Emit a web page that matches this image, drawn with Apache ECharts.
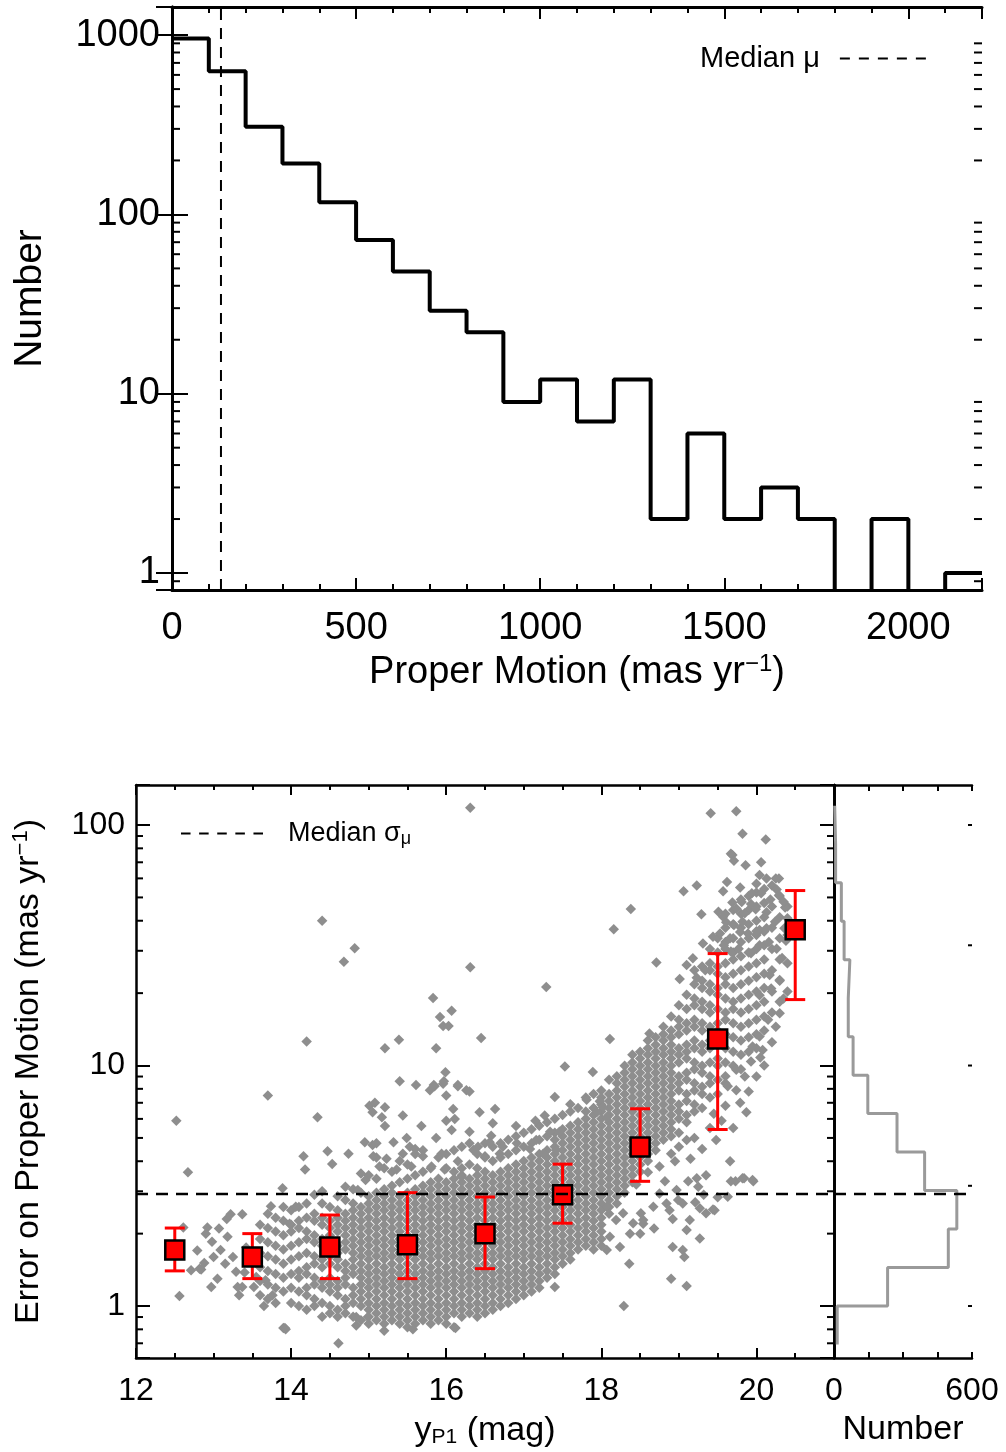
<!DOCTYPE html>
<html><head><meta charset="utf-8">
<script src="https://cdn.jsdelivr.net/npm/echarts@6/dist/echarts.min.js"></script>
<style>html,body{margin:0;padding:0;background:#fff}#c{width:1006px;height:1452px}</style>
</head><body><div id="c"></div>
<script>
// ---------------- DATA ----------------
const pmBinEdges = [0,100,200,300,400,500,600,700,800,900,1000,1100,1200,1300,1400,1500,1600,1700,1800,1900,2000,2100,2200];
const pmCounts = [957,629,308,192,117,72,48,29,22,9,12,7,12,2,6,2,3,2,0,2,0,1];
const medianPM = 133;

const magBinCenters = [12.5,13.5,14.5,15.5,16.5,17.5,18.5,19.5,20.5];
const sigmaBinMedian = [1.71,1.60,1.76,1.80,2.00,2.90,4.58,12.9,36.7];
const sigmaBinLow = [1.40,1.30,1.30,1.30,1.43,2.21,3.30,5.42,18.8];
const sigmaBinHigh = [2.11,2.00,2.39,2.96,2.84,3.89,6.61,29.2,53.4];
const medianSigma = 2.92;

const sigmaHistEdges = [0.692,1.0,1.445,2.089,3.02,4.365,6.31,9.12,13.18,19.05,27.54,39.81,57.54,83.18,120.2];
const sigmaHistCounts = [14,233,497,534,394,274,147,83,62,69,44,32,7,3];

const pmTickLabels = [0,500,1000,1500,2000];
const magTickLabels = [12,14,16,18,20];
const numTickLabels = [0,600];

// scatter: columns of points (magnitude, list of sigma values) read from the cloud
const scatterColumns = [
[13.6,[2.18,1.9,1.66,1.45,1.27,1.11]],
[13.7,[2.42,2.11,1.84,1.61,1.4,1.23,1.07]],
[13.8,[2.33,2.04,1.78,1.56,1.36,1.19,1.03]],
[13.9,[2.58,2.26,1.97,1.72,1.5,1.31,1.15,0.81]],
[14.0,[2.5,2.18,2.04,1.78,1.56,1.36,1.19,1.03]],
[14.1,[2.58,2.26,2.11,1.84,1.61,1.4,1.31,1.15,1.0]],
[14.2,[2.67,2.33,2.04,1.9,1.66,1.45,1.36,1.19,1.11,0.966]],
[14.3,[2.42,2.26,1.97,1.84,1.61,1.5,1.31,1.23,1.07,1.0]],
[14.4,[2.67,2.33,2.18,1.9,1.78,1.56,1.45,1.27,1.19,1.03,0.903]],
[14.5,[2.58,2.26,2.11,1.97,1.72,1.61,1.5,1.31,1.23,1.15,1.0,0.934]],
[14.6,[2.86,2.5,2.33,2.18,2.04,1.78,1.66,1.56,1.45,1.27,1.19,1.11,0.966,0.903]],
[14.7,[2.76,2.42,2.26,2.11,1.97,1.84,1.72,1.5,1.4,1.31,1.23,1.07,1.0,0.934]],
[14.8,[3.06,2.67,2.5,2.33,2.18,2.04,1.9,1.78,1.66,1.56,1.45,1.36,1.19,1.11,1.03,0.903]],
[14.9,[2.96,2.58,2.42,2.26,2.11,1.97,1.84,1.72,1.61,1.5,1.4,1.31,1.23,1.15,1.07,1.0,0.873]],
[15.0,[3.5,2.86,2.67,2.5,2.33,2.18,2.04,1.9,1.78,1.66,1.56,1.45,1.36,1.27,1.19,1.11,1.03,0.966,0.903,0.844]],
[15.1,[4.15,3.38,2.96,2.76,2.58,2.42,2.26,2.11,1.97,1.84,1.72,1.61,1.5,1.4,1.31,1.23,1.15,1.07,1.0,0.934,0.873]],
[15.2,[3.74,3.06,2.86,2.67,2.5,2.33,2.18,2.04,1.9,1.78,1.66,1.56,1.45,1.36,1.27,1.19,1.11,1.03,0.966,0.903,0.844,0.789]],
[15.3,[3.62,3.16,2.96,2.76,2.58,2.42,2.26,2.11,1.97,1.84,1.72,1.61,1.5,1.4,1.31,1.23,1.15,1.07,1.0,0.934,0.873]],
[15.4,[4.01,3.27,2.86,2.67,2.5,2.33,2.18,2.04,1.9,1.78,1.66,1.56,1.45,1.36,1.27,1.19,1.11,1.03,0.966,0.903,0.844]],
[15.5,[3.88,3.38,2.96,2.76,2.58,2.42,2.26,2.11,1.97,1.84,1.72,1.61,1.5,1.4,1.31,1.23,1.15,1.07,1.0,0.934,0.873,0.816]],
[15.6,[4.29,3.5,3.06,2.86,2.67,2.5,2.33,2.18,2.04,1.9,1.78,1.66,1.56,1.45,1.36,1.27,1.19,1.11,1.03,0.966,0.903,0.844]],
[15.7,[4.44,3.62,3.16,2.96,2.76,2.58,2.42,2.26,2.11,1.97,1.84,1.72,1.61,1.5,1.4,1.31,1.23,1.15,1.07,1.0,0.934,0.873]],
[15.8,[3.74,3.27,3.06,2.86,2.67,2.5,2.33,2.18,2.04,1.9,1.78,1.66,1.56,1.45,1.36,1.27,1.19,1.11,1.03,0.966,0.903,0.844]],
[15.9,[4.15,3.38,3.16,2.96,2.76,2.58,2.42,2.26,2.11,1.97,1.84,1.72,1.61,1.5,1.4,1.31,1.23,1.15,1.07,1.0,0.934,0.873]],
[16.0,[4.29,3.74,3.27,3.06,2.86,2.67,2.5,2.33,2.18,2.04,1.9,1.78,1.66,1.56,1.45,1.36,1.27,1.19,1.11,1.03,0.966,0.903,0.844]],
[16.1,[4.44,3.62,3.38,3.16,2.96,2.76,2.58,2.42,2.26,2.11,1.97,1.84,1.72,1.61,1.5,1.4,1.31,1.23,1.15,1.07,1.0,0.934,0.816]],
[16.2,[4.59,3.74,3.5,3.27,3.06,2.86,2.67,2.5,2.33,2.18,2.04,1.9,1.78,1.66,1.56,1.45,1.36,1.27,1.19,1.11,1.03,0.966,0.903]],
[16.3,[4.75,3.88,3.38,3.16,2.96,2.76,2.58,2.42,2.26,2.11,1.97,1.84,1.72,1.61,1.5,1.4,1.31,1.23,1.15,1.07,1.0,0.934]],
[16.4,[4.29,3.74,3.5,3.27,3.06,2.86,2.67,2.5,2.33,2.18,2.04,1.9,1.78,1.66,1.56,1.45,1.36,1.27,1.19,1.11,1.03,0.966,0.903]],
[16.5,[4.75,4.15,3.62,3.38,3.16,2.96,2.76,2.58,2.42,2.26,2.11,1.97,1.84,1.72,1.61,1.5,1.4,1.31,1.23,1.15,1.07,1.0,0.934]],
[16.6,[4.59,4.01,3.5,3.27,3.06,2.86,2.67,2.5,2.33,2.18,2.04,1.9,1.78,1.66,1.56,1.45,1.36,1.27,1.19,1.11,1.03,0.966]],
[16.7,[4.75,4.15,3.62,3.38,3.16,2.96,2.76,2.58,2.42,2.26,2.11,1.97,1.84,1.72,1.61,1.5,1.4,1.31,1.23,1.15,1.07,1.0]],
[16.8,[4.91,4.29,3.74,3.5,3.27,3.06,2.86,2.67,2.5,2.33,2.18,2.04,1.9,1.78,1.66,1.56,1.45,1.36,1.27,1.19,1.11,1.03]],
[16.9,[5.08,4.44,3.88,3.62,3.38,3.16,2.96,2.76,2.58,2.42,2.26,2.11,1.97,1.84,1.72,1.61,1.5,1.4,1.31,1.23,1.15,1.07]],
[17.0,[5.25,4.59,4.01,3.74,3.5,3.27,3.06,2.86,2.67,2.5,2.33,2.18,2.04,1.9,1.78,1.66,1.56,1.45,1.36,1.27,1.19,1.11]],
[17.1,[5.43,4.75,4.15,3.88,3.62,3.38,3.16,2.96,2.76,2.58,2.42,2.26,2.11,1.97,1.84,1.72,1.61,1.5,1.4,1.31,1.23,1.15]],
[17.2,[5.62,4.91,4.29,4.01,3.74,3.5,3.27,3.06,2.86,2.67,2.5,2.33,2.18,2.04,1.9,1.78,1.66,1.56,1.45,1.36,1.27,1.19]],
[17.3,[5.81,5.08,4.44,4.15,3.88,3.62,3.38,3.16,2.96,2.76,2.58,2.42,2.26,2.11,1.97,1.84,1.72,1.61,1.5,1.4,1.31]],
[17.4,[6.01,5.25,4.91,4.59,4.29,4.01,3.74,3.5,3.27,3.06,2.86,2.67,2.5,2.33,2.18,2.04,1.9,1.78,1.66,1.56,1.45,1.36]],
[17.5,[6.22,5.43,5.08,4.75,4.44,4.15,3.88,3.62,3.38,3.16,2.96,2.76,2.58,2.42,2.26,2.11,1.97,1.84,1.72,1.61,1.5]],
[17.6,[6.44,5.62,5.25,4.91,4.59,4.29,4.01,3.74,3.5,3.27,3.06,2.86,2.67,2.5,2.33,2.18,2.04,1.9,1.78,1.66,1.56]],
[17.7,[6.66,5.81,5.43,5.08,4.75,4.44,4.15,3.88,3.62,3.38,3.16,2.96,2.76,2.58,2.42,2.26,2.11,1.97,1.84,1.72]],
[17.8,[7.37,6.44,6.01,5.62,5.25,4.91,4.59,4.29,4.01,3.74,3.5,3.27,3.06,2.86,2.67,2.5,2.33,2.18,2.04,1.9,1.78]],
[17.9,[7.62,6.66,6.22,5.81,5.43,5.08,4.75,4.44,4.15,3.88,3.62,3.38,3.16,2.96,2.76,2.58,2.42,2.26,2.11,1.97,1.84,1.72]],
[18.0,[7.88,7.37,6.89,6.44,6.01,5.62,5.25,4.91,4.59,4.29,4.01,3.74,3.5,3.27,3.06,2.86,2.67,2.5,2.33,2.18,2.04,1.9,1.78]],
[18.1,[8.73,7.62,7.12,6.66,6.22,5.81,5.43,5.08,4.75,4.44,4.15,3.88,3.62,3.38,3.16,2.96,2.76,2.58,2.42]],
[18.2,[9.03,8.44,7.88,7.37,6.89,6.44,6.01,5.62,5.25,4.91,4.59,4.29,4.01,3.74,3.5,3.27,3.06,2.86,2.67]],
[18.3,[9.99,9.34,8.73,8.16,7.62,7.12,6.66,6.22,5.81,5.43,5.08,4.75,4.44,4.15,3.88,3.62,3.38,3.16,2.96]],
[18.4,[11.1,10.3,9.66,9.03,8.44,7.88,7.37,6.89,6.44,6.01,5.62,5.25,4.91,4.59,4.29,4.01,3.74,3.5,3.27]],
[18.5,[11.4,10.7,9.99,9.34,8.73,8.16,7.62,7.12,6.66,6.22,5.81,5.43,5.08,4.75,4.44,4.15,3.88,3.62]],
[18.6,[12.7,11.8,11.1,10.3,9.66,9.03,8.44,7.88,7.37,6.89,6.44,6.01,5.62,5.25,4.91,4.59,4.29,4.01]],
[18.7,[13.1,12.2,11.4,10.7,9.99,9.34,8.73,8.16,7.62,7.12,6.66,6.22,5.81,5.43,5.08,4.75,4.44]],
[18.8,[14.5,13.5,12.7,11.8,11.1,10.3,9.66,9.03,8.44,7.88,7.37,6.89,6.44,6.01,5.62,5.25,4.91]],
[18.9,[16.0,14.0,13.1,12.2,11.4,10.7,9.99,9.34,8.73,8.16,7.62,7.12,6.66,6.22,5.81,5.43,5.08]],
[19.0,[17.8,15.5,14.5,13.5,11.8,11.1,10.3,9.03,8.44,7.88,6.89,6.44,6.01,5.25]],
[19.1,[19.7,17.2,15.0,14.0,12.2,11.4,10.7,9.34,8.73,7.62,7.12,6.22,5.81]],
[19.2,[24.9,21.8,19.0,17.8,15.5,14.5,12.7,11.8,10.3,9.66,8.44,7.88,6.89,6.44]],
[19.3,[25.8,22.5,21.0,18.4,17.2,15.0,14.0,12.2,11.4,9.99,9.34,8.16,7.62,6.66]],
[19.4,[30.5,26.6,24.9,21.8,20.3,17.8,16.6,14.5,12.7,11.8,10.3,9.03,8.44,7.37]],
[19.5,[33.8,29.5,25.8,24.1,21.0,19.7,17.2,15.0,14.0,12.2,10.7,9.99,8.73,7.62]],
[19.6,[42.8,37.4,32.6,30.5,26.6,23.3,21.8,19.0,16.6,15.5,13.5,11.8,10.3,9.03,8.44]],
[19.7,[44.3,38.7,33.8,29.5,27.6,24.1,21.0,18.4,17.2,15.0,13.1,11.4,9.99]],
[19.8,[49.0,42.8,37.4,32.6,28.5,24.9,21.8,19.0,16.6,14.5,12.7,11.1,9.66]],
[19.9,[50.7,44.3,38.7,33.8,29.5,25.8,22.5,19.7,17.2,15.0,13.1,11.4]],
[20.0,[52.4,45.8,40.0,34.9,30.5,26.6,23.3,20.3,17.8,15.5,13.5,11.8]],
[20.1,[54.2,47.4,41.4,36.1,31.6,27.6,24.1,21.0,18.4,16.0,14.0]],
[20.2,[56.1,45.8,37.4,30.5,24.9,20.3,16.6]],
[20.3,[50.7,41.4,33.8,27.6,22.5,18.4]],
[20.4,[45.8,34.9,26.6,20.3]]
];

// scatter: isolated / sparse points
const scatterSparse = [
[12.52,5.9],[12.67,3.6],[12.56,1.10],[12.61,2.12],[12.79,1.70],[12.84,1.42],[12.71,1.41],[12.82,1.43],[12.88,1.51],[12.92,2.12],[12.90,2.0],[13.07,2.1],[13.18,1.94],[12.97,1.20],[13.05,1.30],[13.09,1.71],[13.22,2.41],[13.37,2.41],[13.17,2.3],[13.29,1.39],[13.31,1.20],[13.33,1.11],[13.37,1.20],[13.52,1.20],[13.55,1.32],[13.65,1.0],[13.67,1.28],[13.76,1.11],[13.92,0.81],[13.70,7.5],[13.74,2.6],[13.89,3.09],[13.45,1.55],[13.42,1.75],[13.25,1.6],[13.15,1.5],[13.40,1.38],[12.98,1.85],[13.0,1.6],[13.98,2.2],[14.06,2.59],
[14.16,4.2],[14.18,3.7],[14.34,6.1],[14.47,4.4],[14.53,3.9],[14.74,4.3],[14.95,4.8],[15.05,4.67],[15.01,6.8],[15.05,6.4],[14.70,3.13],[14.90,3.56],[14.96,3.34],[14.86,3.04],[14.4,3.0],[14.3,2.9],
[15.08,7.0],[15.21,6.7],[15.17,6.1],[15.21,5.6],[15.44,6.2],[15.68,5.6],[15.87,5.0],[16.0,5.9],[16.09,6.6],[16.11,6.0],[16.07,5.4],[16.30,5.3],[16.43,6.4],[16.60,5.75],[16.63,6.6],[16.58,5.1],[16.56,4.8],[17.27,6.2],[17.34,5.3],[17.46,5.3],
[15.10,4.75],[15.32,4.8],[15.49,5.0],[15.53,4.6],[15.60,4.5],[15.06,4.2],[15.23,4.1],[15.14,3.8],[15.36,3.7],[15.55,3.8],[15.44,4.3],
[15.70,4.2],[15.81,3.8],[15.94,4.3],[15.98,3.7],[16.15,4.0],[16.20,3.45],[16.35,4.45],[16.41,4.6],[16.50,4.2],[16.69,4.3],[16.73,4.6],[16.91,4.75],[17.08,4.5],[17.16,4.9],[17.25,4.3],[17.42,4.45],
[15.79,7.9],[15.85,8.2],[15.96,8.4],[16.0,7.5],[16.15,8.2],[16.26,7.9],[16.30,7.8],
[17.81,7.2],[17.98,7.1],[18.02,6.7],[17.94,6.4],[18.07,6.1],[17.6,6.9],[17.4,7.4],[17.15,5.9],[16.9,5.6],
[16.31,118],[14.40,40],[14.82,30.7],[14.68,27.0],[16.31,25.6],[17.29,21.2],[15.83,19.1],[15.92,15.9],[16.07,16.9],[15.96,14.6],[16.03,14.6],[14.20,12.6],[15.39,12.8],[15.21,11.8],[15.87,11.8],[16.45,13.0],[15.99,9.38],[15.40,8.6],[15.61,8.3],[15.84,8.3],[15.97,8.6],[16.15,8.3],[17.53,9.9],[17.89,9.4],[18.11,12.9],[18.62,13.6],[18.16,36.9],[18.38,44.8],[18.71,26.8],
[19.41,112],[19.74,114],[19.82,92],[20.12,87],[19.67,76],[19.69,75],[19.71,71],[19.86,68],[20.06,70],[20.04,62],[20.13,60],[20.29,60],[19.62,58],[20.00,57],[19.23,56],[19.06,53],[19.57,53],[19.79,55],[19.94,52],[20.06,52],[20.26,54],[20.18,49],[20.29,51],[19.69,47.6],[19.81,47.8],[19.93,47],[19.51,43.6],[19.57,41.6],[19.74,45],[19.85,43],[19.99,44.7],[20.13,43.4],[20.37,45.4],[19.29,42.6],[19.61,39.4],[19.71,38.4],[19.82,39.6],[20.04,36.6],[20.13,37.2],[20.24,39.6],[20.36,37.2],[19.53,35.4],[19.66,33.8],[19.44,34.3],[19.79,35.9],[19.89,35.4],[20.00,36.2],[19.31,32.2],[19.58,31.6],[19.67,29.8],[19.77,30.6],[19.93,29.3],[20.04,31.6],[20.16,32.6],[20.26,30.6],[19.18,27.9],[19.10,26.2],[19.34,24.9],[19.23,23.2],[19.01,22.9],[20.17,23.8],[20.30,22.7],[20.19,20.9],[20.04,19.6],[20.25,60],[20.33,28],[20.38,33],[20.35,48],[20.40,41],
[19.48,4.9],[19.66,4.0],[19.73,3.3],[19.84,3.4],[19.96,3.3],[19.63,2.85],[19.46,2.5],[19.27,1.91],[19.10,2.07],[19.14,2.28],[18.92,1.76],[19.05,1.71],[19.07,1.6],[18.90,1.3],[19.10,1.21],[18.36,1.5],[18.29,1.0],[18.54,2.2],[18.37,2.0],[18.88,2.5],[18.99,2.76],[19.27,2.55],[19.35,2.43],[19.12,3.3],[19.23,3.4],[19.35,3.5],[19.25,3.13],[19.74,9.6],[19.93,10.4],[20.04,13.2],[20.08,11.6],[19.79,7.0],[19.87,6.4],[19.74,7.9],[19.63,8.2],
[18.07,2.59],[18.19,2.28],[18.28,2.43],[18.41,2.21],[18.54,2.28],[18.67,2.59],[18.75,2.94],[18.84,2.67],[18.97,3.04],[19.05,2.67],[18.11,1.94],[18.24,1.76],[18.50,2.0],[18.07,1.71],[17.40,1.2],[18.51,2.43],[19.50,2.83],[19.32,2.9],[19.21,2.7],[18.92,2.3],[18.68,2.1],[19.44,2.52],[19.67,3.3],[19.82,3.4],[19.95,3.34],
[18.60,3.6],[18.75,3.8],[18.90,4.3],[19.00,4.6],[18.45,3.2],[18.82,3.3],[19.15,4.1],[19.30,4.5],[19.40,5.5],[19.55,5.9],[19.60,6.8],[19.45,6.3],[19.20,5.0],[19.10,4.9],[18.95,4.0],[19.70,5.5],[19.90,7.8],[20.00,9.0],[20.10,10.0],[20.20,12.5],[20.25,14.5],[20.30,16.5],[20.35,19],[20.15,15.5],[19.85,9.0],[20.05,10.8],[19.95,12.0],
[14.61,0.70],[13.93,0.80],[15.57,0.80],[16.12,0.81],[14.84,0.90],[14.84,0.83],[14.99,0.90]
];

// ---------------- BUILD ----------------
const FONT = "'Liberation Sans', Arial, Helvetica, sans-serif";
const PM_RANGE = [0, 2200], NUM_TOP_RANGE = [0.804, 1435];
const MAG_RANGE = [12, 21], SIG_RANGE = [0.608, 146.7], NUM_RIGHT_RANGE = [0, 600];

const pmStep = [];
pmCounts.forEach((c, i) => { const v = c > 0 ? c : 0.3; pmStep.push([pmBinEdges[i], v], [pmBinEdges[i + 1], v]); });
const sigStep = [];
sigmaHistCounts.forEach((c, i) => { sigStep.push([c, sigmaHistEdges[i]], [c, sigmaHistEdges[i + 1]]); });
const scatterPts = [];
scatterColumns.forEach(([m, arr]) => arr.forEach(s => scatterPts.push([m, s])));
scatterSparse.forEach(p => scatterPts.push(p));
const errData = magBinCenters.map((m, i) => [m, sigmaBinLow[i], sigmaBinHigh[i]]);
const medData = magBinCenters.map((m, i) => [m, sigmaBinMedian[i]]);

function logMinor(lo, hi) { const o = []; for (let k = -2; k <= 4; k++) for (let m = 2; m <= 9; m++) { const v = m * Math.pow(10, k); if (v > lo && v < hi) o.push(v); } return o; }
const isPow10 = v => { const l = Math.log10(v); return Math.abs(l - Math.round(l)) < 1e-6; };

const black = '#000';
function xAx(grid, pos, range, interval, tickLen, extra) {
  return Object.assign({
    type: 'value', gridIndex: grid, position: pos, min: range[0], max: range[1], interval: interval,
    axisLine: { show: false }, splitLine: { show: false },
    axisTick: { show: true, inside: true, length: tickLen, lineStyle: { color: black, width: 2 } },
    axisLabel: { show: false }
  }, extra || {});
}
function yAx(grid, pos, range, tickLen, extra) {
  return Object.assign({
    type: 'log', logBase: 10, gridIndex: grid, position: pos, min: range[0], max: range[1],
    axisLine: { show: true, lineStyle: { color: black, width: 2.5 } }, splitLine: { show: false },
    axisTick: { show: tickLen > 0, inside: true, length: tickLen, lineStyle: { color: black, width: 2 } },
    axisLabel: { show: false }
  }, extra || {});
}
function tickSeries(xIdx, yIdx, values, xAnchor, len, width, sides) {
  return {
    type: 'custom', xAxisIndex: xIdx, yAxisIndex: yIdx, silent: true, z: 10, clip: false,
    data: values.map(v => [xAnchor, v]),
    renderItem: function (params, api) {
      const cs = params.coordSys;
      const y = api.coord([api.value(0), api.value(1)])[1];
      const st = { stroke: black, lineWidth: width };
      const ch = [];
      if (sides.indexOf('L') >= 0) ch.push({ type: 'line', shape: { x1: cs.x, y1: y, x2: cs.x + len, y2: y }, style: st });
      if (sides.indexOf('R') >= 0) ch.push({ type: 'line', shape: { x1: cs.x + cs.width - len, y1: y, x2: cs.x + cs.width, y2: y }, style: st });
      return { type: 'group', children: ch };
    }
  };
}
const DASH_ICON = 'path://M0,0H10V2H0ZM19,0H29V2H19ZM38,0H48V2H38ZM57,0H67V2H57ZM76,0H86V2H76Z';

const option = {
  animation: false,
  backgroundColor: '#fff',
  textStyle: { fontFamily: FONT, color: black },
  grid: [
    { left: 172, top: 7, width: 810, height: 583, outerBoundsMode: 'none', containLabel: false },
    { left: 136, top: 785, width: 698, height: 573, outerBoundsMode: 'none', containLabel: false },
    { left: 834, top: 785, width: 138, height: 573, outerBoundsMode: 'none', containLabel: false }
  ],
  legend: [
    { data: ['Median μ'], left: 700, top: 44, align: 'right', padding: 0, selectedMode: false,
      icon: DASH_ICON, itemWidth: 86, itemHeight: 2, itemStyle: { color: black, borderWidth: 0 },
      textStyle: { fontFamily: FONT, fontSize: 29, color: black, padding: [0, 15, 0, 0] } },
    { data: ['Median σμ'], left: 181, top: 820, align: 'left', padding: 0, selectedMode: false,
      icon: DASH_ICON, itemWidth: 82, itemHeight: 2, itemStyle: { color: black, borderWidth: 0 },
      formatter: () => '{a|Median σ}{b|μ}',
      textStyle: { fontFamily: FONT, fontSize: 27, color: black, padding: [0, 0, 0, 20],
        rich: { a: { fontFamily: FONT, fontSize: 27, color: black }, b: { fontFamily: FONT, fontSize: 18, color: black, padding: [12, 0, 0, 0] } } } }
  ],
  xAxis: [
    xAx(0, 'bottom', PM_RANGE, 500, 12, {
      axisLine: { show: true, lineStyle: { color: black, width: 3 } },
      axisLabel: { show: true, fontSize: 38, fontFamily: FONT, color: black, margin: 20,
        formatter: v => pmTickLabels.indexOf(v) >= 0 ? String(v) : '' },
      name: '{a|Proper Motion (mas yr}{s|−1}{a|)}', nameLocation: 'middle', nameGap: 62,
      nameTextStyle: { rich: { a: { fontFamily: FONT, fontSize: 38, color: black }, s: { fontFamily: FONT, fontSize: 24, color: black, padding: [0, 0, 18, 0] } } }
    }),
    xAx(0, 'bottom', PM_RANGE, 100, 6),
    xAx(0, 'top', PM_RANGE, 500, 12, { axisLine: { show: true, lineStyle: { color: black, width: 3 } } }),
    xAx(0, 'top', PM_RANGE, 100, 6),
    xAx(1, 'bottom', MAG_RANGE, 2, 10, {
      axisLine: { show: true, lineStyle: { color: black, width: 2.5 } },
      axisLabel: { show: true, fontSize: 32, fontFamily: FONT, color: black, margin: 17,
        formatter: v => magTickLabels.indexOf(v) >= 0 ? String(v) : '' },
      name: '{a|y}{b|P1}{a| (mag)}', nameLocation: 'middle', nameGap: 55,
      nameTextStyle: { rich: { a: { fontFamily: FONT, fontSize: 34, color: black }, b: { fontFamily: FONT, fontSize: 21, color: black, padding: [14, 0, 0, 0] } } }
    }),
    xAx(1, 'bottom', MAG_RANGE, 0.5, 5),
    xAx(1, 'top', MAG_RANGE, 2, 10, { axisLine: { show: true, lineStyle: { color: black, width: 2.5 } } }),
    xAx(1, 'top', MAG_RANGE, 0.5, 5),
    xAx(2, 'bottom', NUM_RIGHT_RANGE, 150, 6, {
      axisLine: { show: true, lineStyle: { color: black, width: 2.5 } },
      axisLabel: { show: true, fontSize: 32, fontFamily: FONT, color: black, margin: 17,
        formatter: v => numTickLabels.indexOf(v) >= 0 ? String(v) : '' },
      name: 'Number', nameLocation: 'middle', nameGap: 55,
      nameTextStyle: { fontFamily: FONT, fontSize: 34, color: black }
    }),
    xAx(2, 'top', NUM_RIGHT_RANGE, 150, 6, { axisLine: { show: true, lineStyle: { color: black, width: 2.5 } } })
  ],
  yAxis: [
    yAx(0, 'left', NUM_TOP_RANGE, 16, {
      axisLine: { show: true, lineStyle: { color: black, width: 3 } },
      axisLabel: { show: true, fontSize: 38, fontFamily: FONT, color: black, margin: 12,
        formatter: v => isPow10(v) ? String(Math.round(v)) : '' },
      name: 'Number', nameLocation: 'middle', nameGap: 122,
      nameTextStyle: { fontFamily: FONT, fontSize: 39, color: black }
    }),
    yAx(0, 'right', NUM_TOP_RANGE, 16, { axisLine: { show: true, lineStyle: { color: black, width: 3 } } }),
    yAx(1, 'left', SIG_RANGE, 14, {
      axisLabel: { show: true, fontSize: 32, fontFamily: FONT, color: black, margin: 11,
        formatter: v => isPow10(v) ? String(Math.round(v)) : '' },
      name: '{a|Error on Proper Motion (mas yr}{s|−1}{a|)}', nameLocation: 'middle', nameGap: 88,
      nameTextStyle: { rich: { a: { fontFamily: FONT, fontSize: 34, color: black }, s: { fontFamily: FONT, fontSize: 22, color: black, padding: [0, 0, 16, 0] } } }
    }),
    yAx(1, 'right', SIG_RANGE, 14),
    yAx(2, 'left', SIG_RANGE, 0),
    yAx(2, 'right', SIG_RANGE, 0)
  ],
  series: [
    { type: 'line', name: 'PM histogram', xAxisIndex: 0, yAxisIndex: 0, data: pmStep, symbol: 'none', clip: true, z: 3,
      lineStyle: { color: black, width: 4 }, itemStyle: { color: black } },
    { type: 'line', name: 'Median μ', xAxisIndex: 0, yAxisIndex: 0, color: black,
      data: [[medianPM, NUM_TOP_RANGE[0]], [medianPM, NUM_TOP_RANGE[1]]], symbol: 'none', z: 4,
      lineStyle: { color: black, width: 2, type: [11, 8] }, itemStyle: { color: black } },
    { type: 'scatter', name: 'stars', xAxisIndex: 4, yAxisIndex: 2, data: scatterPts, symbol: 'diamond', symbolSize: 10.5, z: 2,
      itemStyle: { color: '#8e8e8e', opacity: 1 }, large: false },
    { type: 'custom', name: 'err', xAxisIndex: 4, yAxisIndex: 2, data: errData, z: 5, silent: true,
      encode: { x: 0, y: [1, 2] },
      renderItem: function (params, api) {
        const x = api.value(0);
        const p1 = api.coord([x, api.value(2)]), p2 = api.coord([x, api.value(1)]);
        const w = 10, st = { stroke: '#ff0000', lineWidth: 3 };
        return { type: 'group', children: [
          { type: 'line', shape: { x1: p1[0], y1: p1[1], x2: p2[0], y2: p2[1] }, style: st },
          { type: 'line', shape: { x1: p1[0] - w, y1: p1[1], x2: p1[0] + w, y2: p1[1] }, style: st },
          { type: 'line', shape: { x1: p2[0] - w, y1: p2[1], x2: p2[0] + w, y2: p2[1] }, style: st }
        ] };
      } },
    { type: 'scatter', name: 'bin medians', xAxisIndex: 4, yAxisIndex: 2, data: medData, symbol: 'rect', symbolSize: 19, z: 6,
      itemStyle: { color: '#ff0000', borderColor: black, borderWidth: 2.5, opacity: 1 } },
    { type: 'line', name: 'Median σμ', xAxisIndex: 4, yAxisIndex: 2, color: black,
      data: [[MAG_RANGE[0], medianSigma], [MAG_RANGE[1], medianSigma]], symbol: 'none', z: 7,
      lineStyle: { color: black, width: 2.5, type: [12, 8] }, itemStyle: { color: black } },
    { type: 'line', name: 'median right', xAxisIndex: 8, yAxisIndex: 4,
      data: [[NUM_RIGHT_RANGE[0], medianSigma], [NUM_RIGHT_RANGE[1], medianSigma]], symbol: 'none', z: 7,
      lineStyle: { color: black, width: 2.5, type: [12, 8] } },
    { type: 'line', name: 'sigma histogram', xAxisIndex: 8, yAxisIndex: 4, data: sigStep, symbol: 'none', clip: true, z: 3,
      lineStyle: { color: '#9a9a9a', width: 3 } },
    tickSeries(0, 0, logMinor(NUM_TOP_RANGE[0], NUM_TOP_RANGE[1]), 0, 8, 2, 'LR'),
    tickSeries(4, 2, logMinor(SIG_RANGE[0], SIG_RANGE[1]), 12, 7, 2, 'LR'),
    tickSeries(8, 4, [1, 3.162, 10, 31.62, 100], 0, 4, 2, 'R')
  ]
};
const chart = echarts.init(document.getElementById('c'), null, { renderer: 'canvas', width: 1006, height: 1452 });
chart.setOption(option);
</script>
</body></html>
